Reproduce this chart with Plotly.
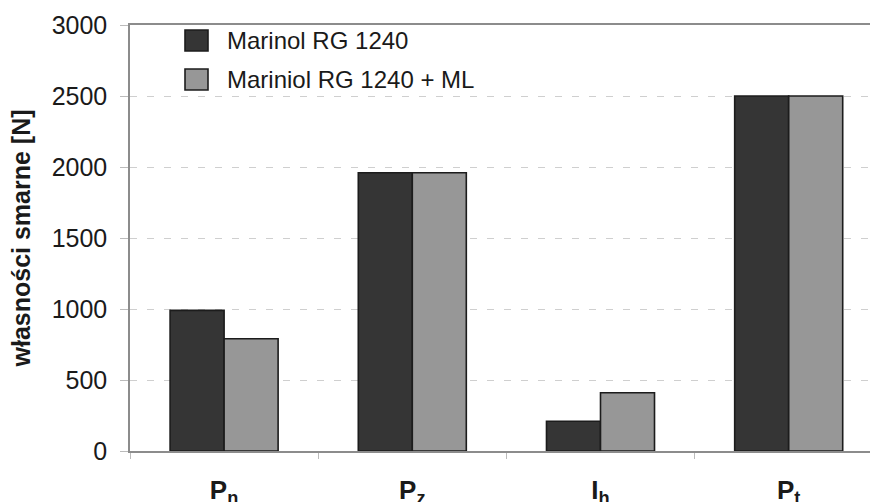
import plotly.graph_objects as go

categories = ["P<sub>n</sub>", "P<sub>z</sub>", "I<sub>h</sub>", "P<sub>t</sub>"]
series_names = ["Marinol RG 1240", "Mariniol RG 1240 + ML"]
series_a = [990, 1960, 210, 2500]
series_b = [790, 1960, 410, 2500]
y_ticks = [0, 500, 1000, 1500, 2000, 2500, 3000]

colors = ["#353535", "#979797"]
edge = "#1c1c1c"
FONT = "Liberation Sans, Arial, sans-serif"

W, H = 870, 502
ML, MR, MT, MB = 130, 0, 25, 51
PW, PH = W - ML - MR, H - MT - MB

fig = go.Figure()
for name, vals, col in zip(series_names, [series_a, series_b], colors):
    fig.add_trace(go.Bar(
        x=categories, y=vals, name=name,
        marker=dict(color=col, line=dict(color=edge, width=1.6)),
        showlegend=False,
    ))

def px_x(p):
    return (p - ML) / PW

def px_y(p):
    return (H - MB - p) / PH

shapes = []
annotations = []
leg_rows = [(30, 51, 41), (69, 90, 79)]
for (y0, y1, yc), name, col in zip(leg_rows, series_names, colors):
    shapes.append(dict(type="rect", xref="paper", yref="paper",
                       x0=px_x(185), x1=px_x(208), y0=px_y(y1), y1=px_y(y0),
                       fillcolor=col, line=dict(color=edge, width=1.6)))
    annotations.append(dict(xref="paper", yref="paper", x=px_x(225), y=px_y(yc),
                            text=name, showarrow=False, xanchor="left", yanchor="middle",
                            font=dict(size=24, color="#1a1a1a", family=FONT)))

fig.update_layout(
    width=W, height=H,
    margin=dict(l=ML, r=MR, t=MT, b=MB, pad=0, autoexpand=False),
    paper_bgcolor="white", plot_bgcolor="white",
    barmode="group", bargap=0.426, bargroupgap=0,
    font=dict(family=FONT, color="#1a1a1a"),
    shapes=shapes, annotations=annotations,
    xaxis=dict(
        type="category", range=[-0.5, 3.432], automargin=False,
        showline=True, linecolor="#8c8c8c", linewidth=1.5, mirror=True,
        ticks="outside", tickson="boundaries", ticklen=6, tickcolor="#bbbbbb", tickwidth=1,
        showgrid=False,
        tickfont=dict(size=26, color="#1a1a1a", family=FONT, weight="bold"),
        ticklabelstandoff=15,
    ),
    yaxis=dict(
        range=[0, 3000], tickvals=y_ticks, automargin=False,
        showline=True, linecolor="#8c8c8c", linewidth=1.5,
        ticks="outside", ticklen=8, tickcolor="#bbbbbb", tickwidth=1,
        showgrid=True, gridcolor="#cfcfcf", gridwidth=1, griddash="7px,10px",
        zeroline=False,
        tickfont=dict(size=25, color="#1a1a1a"),
        ticklabelstandoff=8,
        title=dict(text="własności smarne [N]", standoff=14,
                   font=dict(size=25, color="#1a1a1a", weight="bold")),
    ),
)

fig.write_html("out.html")
